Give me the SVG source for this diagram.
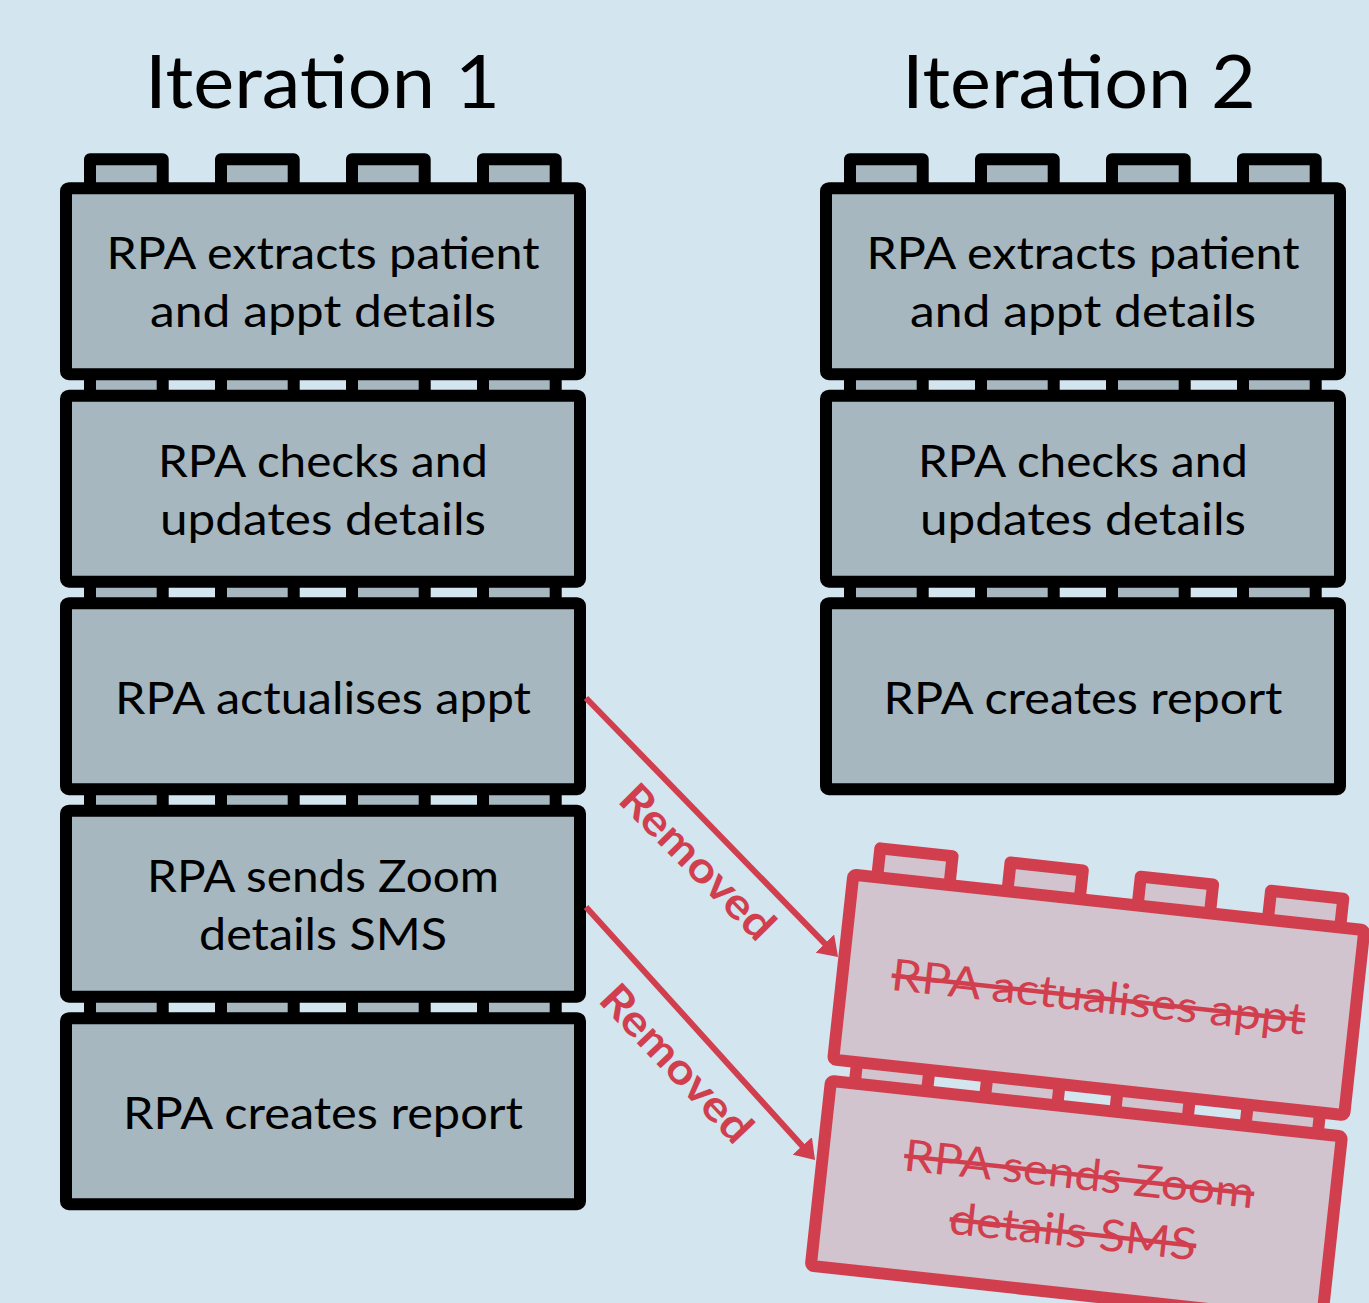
<svg xmlns="http://www.w3.org/2000/svg" width="1369" height="1303" viewBox="0 0 1369 1303">
  <defs>
    <style>
      .bg { fill: #D3E5EF; }
      .blk { fill: #A6B7BF; stroke: #000; stroke-width: 12; stroke-linejoin: round; }
      .rblk { fill: #D1C4CE; stroke: #D13F4F; stroke-width: 12; stroke-linejoin: round; }
      .t { font-family: Lato, "Open Sans", sans-serif; font-size: 44px; text-anchor: middle; fill: #000; }
      .title { font-size: 74px; }
      .rt { fill: #D13F4F; text-decoration: line-through; }
      .lbl { font-family: Lato, "Open Sans", sans-serif; font-size: 43px; font-weight: bold; text-anchor: middle; fill: #D13F4F; }
      .arrow { fill: none; stroke: #D13F4F; stroke-width: 6; }
    </style>
    <marker id="ah" viewBox="0 0 19 26" refX="6" refY="13" markerWidth="19" markerHeight="26" markerUnits="userSpaceOnUse" orient="auto">
      <path d="M0,0 L19,13 L0,26 Z" fill="#D13F4F"/>
    </marker>
  </defs>
  <rect class="bg" x="0" y="0" width="1369" height="1303"/>

  <text id="title1" class="t title" x="322.5" y="108.3" textLength="355" lengthAdjust="spacingAndGlyphs">Iteration 1</text>
  <text id="title2" class="t title" x="1079" y="108.3" textLength="354" lengthAdjust="spacingAndGlyphs">Iteration 2</text>

  <!-- Iteration 1 column (drawn bottom-up so upper blocks cover lower studs) -->
  <g id="it1-report">
    <rect class="blk" x="90" y="989.2" width="72.7" height="40"/>
    <rect class="blk" x="221" y="989.2" width="72.7" height="40"/>
    <rect class="blk" x="352" y="989.2" width="72.7" height="40"/>
    <rect class="blk" x="483" y="989.2" width="72.7" height="40"/>
    <rect class="blk" x="66" y="1018.2" width="514" height="186" rx="3"/>
    <text class="t" x="323" y="1128.5" textLength="400" lengthAdjust="spacingAndGlyphs">RPA creates report</text>
  </g>
  <g id="it1-sms">
    <rect class="blk" x="90" y="781.7" width="72.7" height="40"/>
    <rect class="blk" x="221" y="781.7" width="72.7" height="40"/>
    <rect class="blk" x="352" y="781.7" width="72.7" height="40"/>
    <rect class="blk" x="483" y="781.7" width="72.7" height="40"/>
    <rect class="blk" x="66" y="810.7" width="514" height="186" rx="3"/>
    <text class="t" x="323" y="891.5" textLength="352" lengthAdjust="spacingAndGlyphs">RPA sends Zoom</text>
    <text class="t" x="323" y="949.5" textLength="248" lengthAdjust="spacingAndGlyphs">details SMS</text>
  </g>
  <g id="it1-actualise">
    <rect class="blk" x="90" y="574.2" width="72.7" height="40"/>
    <rect class="blk" x="221" y="574.2" width="72.7" height="40"/>
    <rect class="blk" x="352" y="574.2" width="72.7" height="40"/>
    <rect class="blk" x="483" y="574.2" width="72.7" height="40"/>
    <rect class="blk" x="66" y="603.2" width="514" height="186" rx="3"/>
    <text class="t" x="323" y="713.5" textLength="416" lengthAdjust="spacingAndGlyphs">RPA actualises appt</text>
  </g>
  <g id="it1-checks">
    <rect class="blk" x="90" y="366.7" width="72.7" height="40"/>
    <rect class="blk" x="221" y="366.7" width="72.7" height="40"/>
    <rect class="blk" x="352" y="366.7" width="72.7" height="40"/>
    <rect class="blk" x="483" y="366.7" width="72.7" height="40"/>
    <rect class="blk" x="66" y="395.7" width="514" height="186" rx="3"/>
    <text class="t" x="323" y="476.5" textLength="330" lengthAdjust="spacingAndGlyphs">RPA checks and</text>
    <text class="t" x="323" y="534.5" textLength="326" lengthAdjust="spacingAndGlyphs">updates details</text>
  </g>
  <g id="it1-extract">
    <rect class="blk" x="90" y="159.2" width="72.7" height="40"/>
    <rect class="blk" x="221" y="159.2" width="72.7" height="40"/>
    <rect class="blk" x="352" y="159.2" width="72.7" height="40"/>
    <rect class="blk" x="483" y="159.2" width="72.7" height="40"/>
    <rect class="blk" x="66" y="188.2" width="514" height="186" rx="3"/>
    <text class="t" x="323" y="269" textLength="433" lengthAdjust="spacingAndGlyphs">RPA extracts patient</text>
    <text class="t" x="323" y="327" textLength="346" lengthAdjust="spacingAndGlyphs">and appt details</text>
  </g>

  <!-- Iteration 2 column -->
  <g id="it2-report">
    <rect class="blk" x="850" y="574.2" width="72.7" height="40"/>
    <rect class="blk" x="981" y="574.2" width="72.7" height="40"/>
    <rect class="blk" x="1112" y="574.2" width="72.7" height="40"/>
    <rect class="blk" x="1243" y="574.2" width="72.7" height="40"/>
    <rect class="blk" x="826" y="603.2" width="514" height="186" rx="3"/>
    <text class="t" x="1083" y="713.5" textLength="399" lengthAdjust="spacingAndGlyphs">RPA creates report</text>
  </g>
  <g id="it2-checks">
    <rect class="blk" x="850" y="366.7" width="72.7" height="40"/>
    <rect class="blk" x="981" y="366.7" width="72.7" height="40"/>
    <rect class="blk" x="1112" y="366.7" width="72.7" height="40"/>
    <rect class="blk" x="1243" y="366.7" width="72.7" height="40"/>
    <rect class="blk" x="826" y="395.7" width="514" height="186" rx="3"/>
    <text class="t" x="1083" y="476.5" textLength="330" lengthAdjust="spacingAndGlyphs">RPA checks and</text>
    <text class="t" x="1083" y="534.5" textLength="326" lengthAdjust="spacingAndGlyphs">updates details</text>
  </g>
  <g id="it2-extract">
    <rect class="blk" x="850" y="159.2" width="72.7" height="40"/>
    <rect class="blk" x="981" y="159.2" width="72.7" height="40"/>
    <rect class="blk" x="1112" y="159.2" width="72.7" height="40"/>
    <rect class="blk" x="1243" y="159.2" width="72.7" height="40"/>
    <rect class="blk" x="826" y="188.2" width="514" height="186" rx="3"/>
    <text class="t" x="1083" y="269" textLength="433" lengthAdjust="spacingAndGlyphs">RPA extracts patient</text>
    <text class="t" x="1083" y="327" textLength="346" lengthAdjust="spacingAndGlyphs">and appt details</text>
  </g>

  <!-- Removed blocks (tilted) -->
  <g id="removed-sms" transform="translate(848,868) rotate(6.2)">
    <rect class="rblk" x="30" y="184.5" width="72.7" height="40"/>
    <rect class="rblk" x="161" y="184.5" width="72.7" height="40"/>
    <rect class="rblk" x="292" y="184.5" width="72.7" height="40"/>
    <rect class="rblk" x="423" y="184.5" width="72.7" height="40"/>
    <rect class="rblk" x="6" y="213.5" width="514" height="186" rx="3"/>
    <text class="t rt" x="263" y="294.5" textLength="352" lengthAdjust="spacingAndGlyphs">RPA sends Zoom</text>
    <text class="t rt" x="263" y="352.5" textLength="248" lengthAdjust="spacingAndGlyphs">details SMS</text>
  </g>
  <g id="removed-actualise" transform="translate(848,868) rotate(6.2)">
    <rect class="rblk" x="30" y="-23" width="72.7" height="40"/>
    <rect class="rblk" x="161" y="-23" width="72.7" height="40"/>
    <rect class="rblk" x="292" y="-23" width="72.7" height="40"/>
    <rect class="rblk" x="423" y="-23" width="72.7" height="40"/>
    <rect class="rblk" x="6" y="6" width="514" height="186" rx="3"/>
    <text class="t rt" x="263" y="116.5" textLength="416" lengthAdjust="spacingAndGlyphs">RPA actualises appt</text>
  </g>

  <!-- Connectors -->
  <g id="connectors">
    <line class="arrow" x1="586" y1="698" x2="829" y2="947.8" marker-end="url(#ah)"/>
    <line class="arrow" x1="586" y1="907" x2="806.3" y2="1150.4" marker-end="url(#ah)"/>
    <text class="lbl" transform="translate(698,861.5) rotate(45.2)" x="0" y="15.5" textLength="200" lengthAdjust="spacingAndGlyphs">Removed</text>
    <text class="lbl" transform="translate(677,1063) rotate(46.6)" x="0" y="15.5" textLength="200" lengthAdjust="spacingAndGlyphs">Removed</text>
  </g>
</svg>
